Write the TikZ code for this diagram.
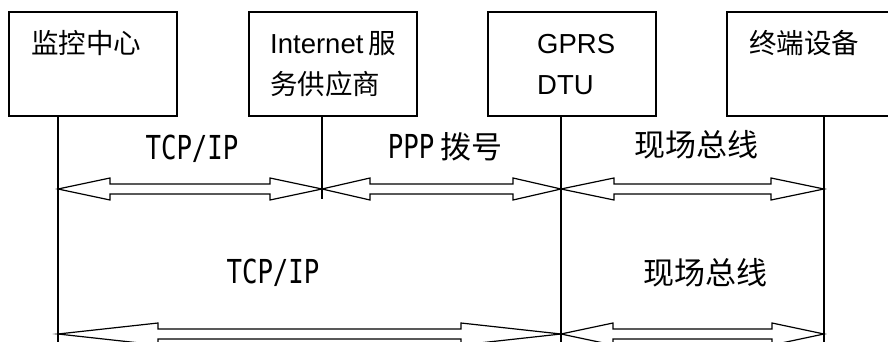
\documentclass[tikz,border=0pt]{standalone}
\usepackage{fontspec}
\setmainfont{Liberation Sans}
\newfontfamily\zh{Noto Sans CJK SC}
\newfontfamily\zhmono[FakeStretch=0.78]{DejaVu Sans Mono}
\usetikzlibrary{positioning,calc}

% block arrow with two heads: left end, right end, head length
\newcommand{\dualarrow}[3]{%
  \draw[blockarr] (#1) -- ($(#1)+(#3,-11)$) -- ($(#1)+(#3,-5)$) -- ($(#2)+(-#3,-5)$) -- ($(#2)+(-#3,-11)$) -- (#2)
    -- ($(#2)+(-#3,11)$) -- ($(#2)+(-#3,5)$) -- ($(#1)+(#3,5)$) -- ($(#1)+(#3,11)$) -- cycle;}

\tikzset{
  box/.style={draw, line width=1.4pt, minimum width=168pt, minimum height=104pt, inner sep=0pt, outer sep=0pt},
  boxtxt/.style={anchor=base west, inner sep=0pt, font=\fontsize{27.5pt}{27.5pt}\selectfont},
  lbl/.style={anchor=base, inner sep=0pt},
  wire/.style={line width=1.4pt},
  blockarr/.style={draw, fill=white, line width=1.2pt, line join=miter}
}

\begin{document}
\begin{tikzpicture}[x=1pt,y=1pt,yscale=-1]
\useasboundingbox (0,0) rectangle (888,342);
\clip (0,0) rectangle (888,342);

%Shape: boxes
\node[box] (ctr) at (93,64) {};
\node[box, right=72pt of ctr] (isp) {};
\node[box, right=71pt of isp] (dtu) {};
\node[box, right=71pt of dtu] (dev) {};

% Text Node
\node[boxtxt] (ctrT) at ($(ctr.north west)+(22,42)$) {\zh 监控中心};
% Text Node
\node[boxtxt] (ispT) at ($(isp.north west)+(21,42)$) {Internet\hspace{5pt}{\zh 服}};
\node[boxtxt] (ispU) at ($(isp.north west)+(21,83)$) {\zh 务供应商};
% Text Node
\node[boxtxt] (dtuT) at ($(dtu.north west)+(49,42)$) {GPRS};
\node[boxtxt] (dtuU) at ($(dtu.north west)+(49,83)$) {DTU};
% Text Node
\node[boxtxt] (devT) at ($(dev.north west)+(22,42)$) {\zh 终端设备};

%Straight Lines: drops from the boxes
\coordinate (ctrL) at ($(ctr.south west)+(49,0)$);
\coordinate (ispL) at ($(isp.south west)+(73,0)$);
\coordinate (dtuL) at ($(dtu.south west)+(73,0)$);
\coordinate (devL) at ($(dev.south west)+(97,0)$);
\coordinate (ctrE) at ($(ctrL)+(0,240)$);
\coordinate (ispE) at ($(ispL)+(0,83)$);
\coordinate (dtuE) at ($(dtuL)+(0,240)$);
\coordinate (devE) at ($(devL)+(0,240)$);

% arrow ends, upper and lower row
\coordinate (r1a) at ($(ctrL)+(0,73)$);
\coordinate (r1b) at ($(ispL)+(0,73)$);
\coordinate (r1c) at ($(dtuL)+(0,73)$);
\coordinate (r1d) at ($(devL)+(0,73)$);
\coordinate (r2a) at ($(ctrL)+(0,218)$);
\coordinate (r2c) at ($(dtuL)+(0,218)$);
\coordinate (r2d) at ($(devL)+(0,218)$);

%Block arrows
\dualarrow{r1a}{r1b}{52}
\dualarrow{r1b}{r1c}{48}
\dualarrow{r1c}{r1d}{53}
\dualarrow{r2a}{r2c}{100}
\dualarrow{r2c}{r2d}{52}

\draw[wire] (ctrL) -- (ctrE);
\draw[wire] (ispL) -- (ispE);
\draw[wire] (dtuL) -- (dtuE);
\draw[wire] (devL) -- (devE);

% Text Node
\node[lbl] (tcp1) at (192,159) {\zhmono\fontsize{33pt}{33pt}\selectfont TCP/IP};
\node[lbl] (ppp) at (445,158) {{\zhmono\fontsize{33pt}{33pt}\selectfont PPP}\hspace{6pt}{\zh\fontsize{31pt}{31pt}\selectfont 拨号}};
\node[lbl] (bus1) at (696,157) {\zh\fontsize{31pt}{31pt}\selectfont 现场总线};
% Text Node
\node[lbl] (tcp2) at (273,283) {\zhmono\fontsize{33pt}{33pt}\selectfont TCP/IP};
\node[lbl] (bus2) at (705,284) {\zh\fontsize{31pt}{31pt}\selectfont 现场总线};

\end{tikzpicture}
\end{document}
